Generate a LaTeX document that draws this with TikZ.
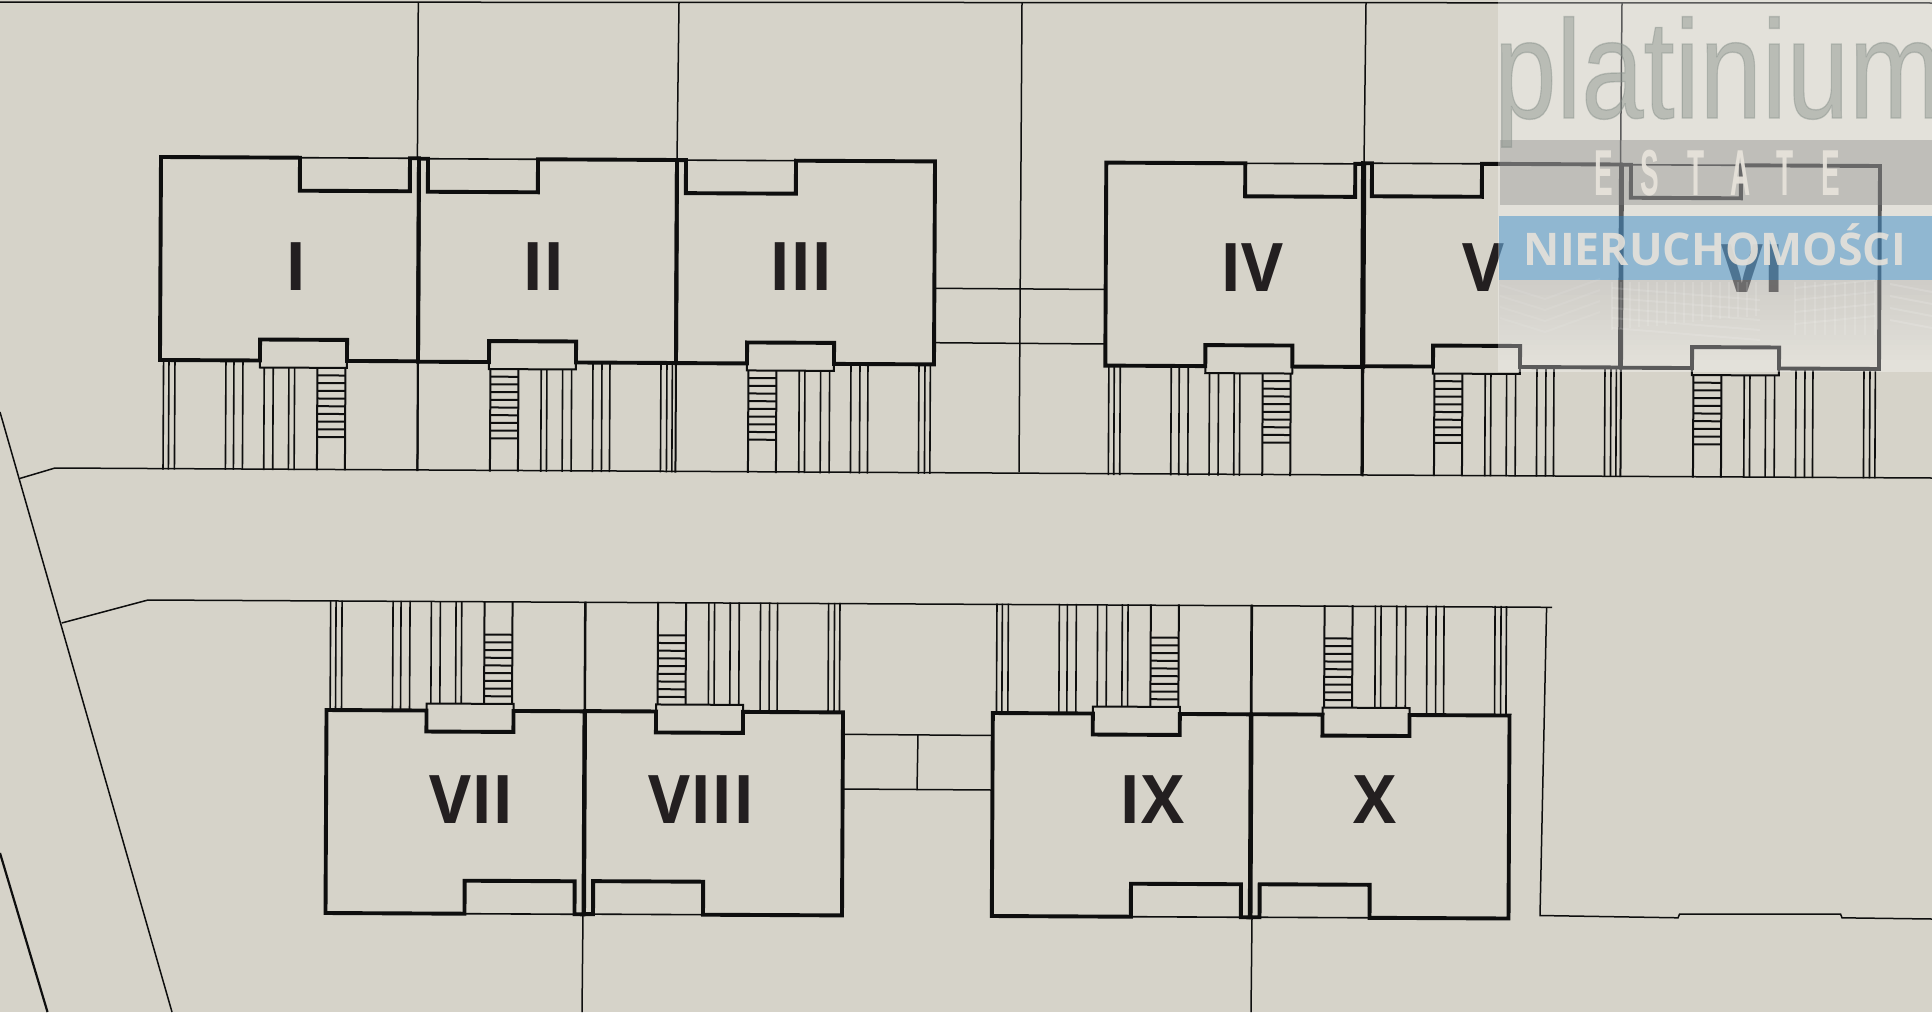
\documentclass[tikz,border=0pt]{standalone}
\usepackage{fontspec}
\setmainfont{Open Sans}
\newfontfamily\labelfont{Open Sans}
\newfontfamily\logofont[FakeBold=1]{Liberation Sans}
\newfontfamily\estatefont[LetterSpace=100]{Liberation Sans}
\newfontfamily\brandfont{Open Sans}
\definecolor{paper}{HTML}{D6D3C9}
\definecolor{ink}{HTML}{0E0E0E}
\definecolor{labelink}{HTML}{231F20}
\definecolor{bandgray}{HTML}{808080}
\definecolor{bandblue}{HTML}{2C85C8}
\definecolor{logogray}{HTML}{87908A}
\definecolor{logolight}{HTML}{E6E2DA}
\tikzset{
  wall/.style={draw=ink,line width=3.9pt,line join=miter},
  thinwall/.style={draw=ink,line width=2pt},
  hair/.style={draw=ink,line width=1.6pt},
  plotline/.style={draw=ink,line width=1.5pt},
  unitlabel/.style={text=labelink,inner sep=0pt,xscale=.96,font=\labelfont\bfseries\fontsize{67}{67}\selectfont},
}
\newcommand{\plotunit}[4]{%
\begin{scope}[shift={(#1,#2)},rotate=-0.29,xscale=#3,yscale=#4]
  % verticals of the garden
  \foreach \u in {3.6,9,15,66,74,83}{\draw[hair] (\u,203) -- (\u,312.5);}
  \foreach \u in {104.3,113.3,129,134.7}{\draw[hair] (\u,210) -- (\u,312.5);}
  \draw[thinwall] (258,203) -- (258,312.5);
  % stairs
  \draw[thinwall] (157.5,210) -- (157.5,312.5);
  \draw[thinwall] (185.5,210) -- (185.5,312.5);
  \foreach \v in {217.6,225.3,233,240.7,248.4,256.1,263.8,271.5,279.2}{\draw[thinwall] (157.5,\v) -- (185.5,\v);}
  % thin parts of the outline
  \draw[hair] (139,0) -- (249,0);
  \draw[thinwall] (100,203) -- (100,210) -- (187,210) -- (187,203);
  % main wall
  \draw[wall] (0,0) -- (139,0) -- (139,33) -- (249,33) -- (249,0) -- (258,0) -- (258,203) -- (187,203) -- (187,182) -- (100,182) -- (100,203) -- (0,203) -- cycle;
\end{scope}}
\begin{document}
\begin{tikzpicture}[x=1pt,y=-1pt]
\path[use as bounding box] (0,0) rectangle (1932,1012);
\fill[paper] (0,0) rectangle (1932,1012);
\clip (0,0) rectangle (1932,1012);

% parcel lines
\draw[plotline] (0,2) -- (1932,3);
\draw[plotline] (418.3,3) -- (417.4,160);
\draw[plotline] (679,3) -- (677,160);
\draw[plotline] (1022,3) -- (1019,472);
\draw[plotline] (1366,3) -- (1364,164);
\draw[plotline] (1622,3) -- (1620.5,165);
\draw[plotline] (0,412) -- (172,1012);
\draw[plotline,line width=2.2pt] (0,853) -- (47.5,1012);
\draw[plotline] (20,478.4) -- (55,468) -- (1932,478);
\draw[plotline] (61.7,623) -- (148,600) -- (1552,607.3);
\draw[plotline] (1546.6,607) -- (1540,915.5) -- (1678,917.8) -- (1679.5,914.2) -- (1840.6,914.2) -- (1842,917.8) -- (1932,919);
\draw[plotline] (935,288.3) -- (1105,289.5);
\draw[plotline] (934,342.7) -- (1105,344);
\draw[plotline] (844,734.3) -- (993,735.5);
\draw[plotline] (844,789) -- (992,790);
\draw[plotline] (918,734.5) -- (917,790);
\draw[plotline] (583,914) -- (582,1012);
\draw[plotline] (1252,918) -- (1251,1012);

% upper row
\plotunit{161}{157}{1}{1}
\plotunit{677}{160}{-1}{1}
\plotunit{935}{161.4}{-1}{1}
\plotunit{1106.3}{162.6}{1}{1}
\plotunit{1621}{164.5}{-1}{1}
\plotunit{1880}{166}{-1}{1}
% lower row
\plotunit{325.5}{913}{1}{-1}
\plotunit{842}{915.4}{-1}{-1}
\plotunit{991.8}{916}{1}{-1}
\plotunit{1508.5}{918.5}{-1}{-1}

% unit labels
\node[unitlabel] (u1) at (296,267) {I};
\node[unitlabel] (u2) at (543.5,267) {II};
\node[unitlabel] (u3) at (801,267) {III};
\node[unitlabel] (u4) at (1252,268) {IV};
\node[unitlabel] (u5) at (1483.5,268) {V};
\node[unitlabel] (u6) at (1753,269) {VI};
\node[unitlabel] (u7) at (472,799.5) {VII};
\node[unitlabel] (u8) at (701.5,799.5) {VIII};
\node[unitlabel] (u9) at (1152,799.5) {IX};
\node[unitlabel] (u10) at (1374.5,799.5) {X};

% watermark
\fill[white,opacity=.32] (1498,0) rectangle (1932,372);
\fill[bandgray,opacity=.36] (1500,140) rectangle (1932,205);
\fill[bandblue,opacity=.45] (1499,216) rectangle (1932,280);
\foreach \i in {0,...,15}{
  \pgfmathsetmacro{\op}{0.2*(1-\i/16)}
  \fill[bandgray,opacity=\op] (1499,{280+5*\i}) rectangle (1932,{285+5*\i});
}
% faint facades
\foreach \x in {1612,1621,...,1760}{\draw[white,opacity=.13,line width=2pt] (\x,282) -- (\x,{330-0.1*(\x-1612)});}
\foreach \y in {288,298,...,328}{\draw[white,opacity=.12,line width=2pt] (1612,\y) -- (1760,{\y+12});}
\foreach \x in {1795,1805,...,1875}{\draw[white,opacity=.13,line width=2pt] (\x,282) -- (\x,335);}
\foreach \y in {288,300,...,324}{\draw[white,opacity=.12,line width=2pt] (1795,\y) -- (1875,{\y-8});}
\foreach \y in {292,304,...,328}{\draw[white,opacity=.14,line width=2pt] (1890,{\y-8}) -- (1932,\y);}
\foreach \y in {285,296,...,318}{\draw[white,opacity=.08,line width=2pt] (1500,\y) -- (1545,{\y+14}) -- (1600,{\y-6});}

\node[anchor=base west,inner sep=0pt,text=logogray,opacity=.45,font=\logofont\fontsize{140}{140}\selectfont,xscale=.8] (logo) at (1494,118) {platinium};
\node[anchor=base,inner sep=0pt,text=logolight,opacity=.95,font=\estatefont\bfseries\fontsize{65}{65}\selectfont,xscale=.43] (estate) at (1717,195) {ESTATE};
\node[anchor=base,inner sep=0pt,text=logolight,opacity=.9,font=\brandfont\bfseries\fontsize{45}{45}\selectfont,xscale=.99] (brand) at (1715,265) {NIERUCHOMOŚCI};
\end{tikzpicture}
\end{document}
